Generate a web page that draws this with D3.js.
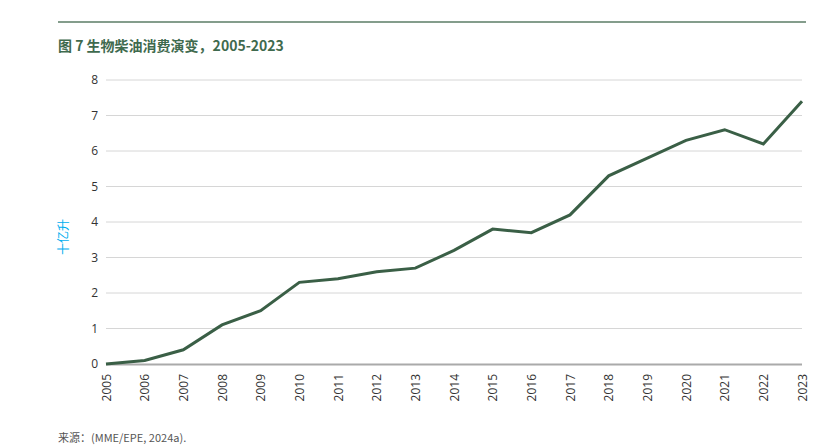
<!DOCTYPE html>
<html lang="zh">
  <head>
    <meta charset="UTF-8" />
    <script src="https://d3js.org/d3.v7.min.js"></script>
    <style>
      body {
        margin: 0;
        background: #ffffff;
        font-family: "Noto Sans CJK SC", "Noto Sans", sans-serif;
      }
    </style>
  </head>
  <body>
    <div id="chart"></div>
    <script>
      // data
      const years = [2005, 2006, 2007, 2008, 2009, 2010, 2011, 2012, 2013, 2014,
        2015, 2016, 2017, 2018, 2019, 2020, 2021, 2022, 2023];
      const consumption = [0, 0.1, 0.4, 1.1, 1.5, 2.3, 2.4, 2.6, 2.7, 3.2,
        3.8, 3.7, 4.2, 5.3, 5.8, 6.3, 6.6, 6.2, 7.4];
      const yTicks = [0, 1, 2, 3, 4, 5, 6, 7, 8];

      const titleText = "图 7 生物柴油消费演变，2005-2023";
      const yLabel = "十亿升";
      const sourceText = "来源：(MME/EPE, 2024a).";

      const W = 830, H = 448;
      const svg = d3.select("#chart").append("svg")
        .attr("width", W).attr("height", H);

      // top rule + title
      svg.append("line")
        .attr("x1", 58).attr("x2", 806).attr("y1", 22).attr("y2", 22)
        .attr("stroke", "#5b7d66").attr("stroke-width", 1.5);
      svg.append("text")
        .attr("x", 58).attr("y", 51)
        .attr("fill", "#3f6a4e").attr("font-size", 14).attr("font-weight", "bold")
        .text(titleText);

      const x = d3.scalePoint().domain(years).range([106, 802]);
      const y = d3.scaleLinear().domain([0, 8]).range([364, 80]);

      // gridlines
      svg.append("g").selectAll("line").data(yTicks.filter(d => d > 0)).enter()
        .append("line")
        .attr("x1", 106).attr("x2", 802)
        .attr("y1", d => y(d)).attr("y2", d => y(d))
        .attr("stroke", "#d6d6d6").attr("stroke-width", 1);

      // y axis labels
      const yAxis = svg.append("g")
        .attr("transform", "translate(98,0)")
        .call(d3.axisLeft(y).tickValues(yTicks).tickSize(0).tickPadding(0));
      yAxis.select(".domain").remove();
      yAxis.selectAll("text")
        .attr("font-family", "'Open Sans', 'Noto Sans', sans-serif")
        .attr("font-size", 12).attr("fill", "#333");

      // baseline
      svg.append("line")
        .attr("x1", 106).attr("x2", 802).attr("y1", y(0) + 0.5).attr("y2", y(0) + 0.5)
        .attr("stroke", "#aaaaaa").attr("stroke-width", 2);

      // x axis labels
      const xAxis = svg.append("g")
        .attr("transform", "translate(0," + (y(0) + 10) + ")")
        .call(d3.axisBottom(x).tickSize(0).tickPadding(0).tickFormat(d3.format("d")));
      xAxis.select(".domain").remove();
      xAxis.selectAll("text")
        .attr("font-family", "'Open Sans', 'Noto Sans', sans-serif")
        .attr("font-size", 12).attr("fill", "#333")
        .attr("transform", "rotate(-90)")
        .attr("text-anchor", "end")
        .attr("x", 0).attr("y", 0).attr("dy", "0.35em");

      // y axis title
      svg.append("text")
        .attr("transform", "translate(64,237) rotate(-90)")
        .attr("text-anchor", "middle").attr("dy", "0.35em")
        .attr("fill", "#00aeef").attr("font-size", 12)
        .text(yLabel);

      // line
      const line = d3.line()
        .x((d, i) => x(years[i]))
        .y(d => y(d));
      svg.append("path")
        .datum(consumption)
        .attr("d", line)
        .attr("fill", "none")
        .attr("stroke", "#3a5f46")
        .attr("stroke-width", 3)
        .attr("stroke-linejoin", "miter");

      // source note
      svg.append("text")
        .attr("x", 58).attr("y", 442)
        .attr("fill", "#555").attr("font-size", 11)
        .text(sourceText);
    </script>
  </body>
</html>
